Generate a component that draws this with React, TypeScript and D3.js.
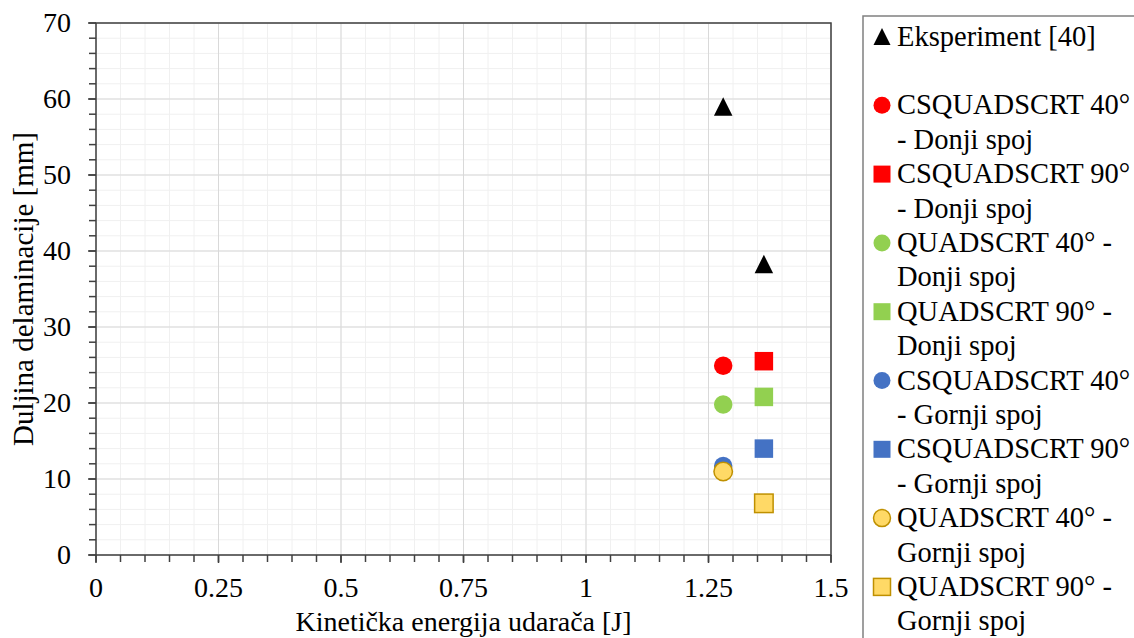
import React from "react";
import * as d3 from "d3";

// ---- data ----
const seriesLabels: string[][] = [
  ["Eksperiment [40]"],
  ["CSQUADSCRT 40°", "- Donji spoj"],
  ["CSQUADSCRT 90°", "- Donji spoj"],
  ["QUADSCRT 40° -", "Donji spoj"],
  ["QUADSCRT 90° -", "Donji spoj"],
  ["CSQUADSCRT 40°", "- Gornji spoj"],
  ["CSQUADSCRT 90°", "- Gornji spoj"],
  ["QUADSCRT 40° -", "Gornji spoj"],
  ["QUADSCRT 90° -", "Gornji spoj"],
];
const seriesEnergy: number[][] = [
  [1.28, 1.363],
  [1.28],
  [1.363],
  [1.28],
  [1.363],
  [1.28],
  [1.363],
  [1.28],
  [1.363],
];
const seriesDelamination: number[][] = [
  [59.0, 38.3],
  [24.9],
  [25.5],
  [19.8],
  [20.8],
  [11.7],
  [14.0],
  [11.0],
  [6.8],
];
const xTickValues = [0, 0.25, 0.5, 0.75, 1, 1.25, 1.5];
const xTickLabels = ["0", "0.25", "0.5", "0.75", "1", "1.25", "1.5"];
const yTickValues = [0, 10, 20, 30, 40, 50, 60, 70];
const xTitle = "Kinetička energija udarača [J]";
const yTitle = "Duljina delaminacije [mm]";

// ---- styles ----
const seriesShape = ["triangle", "circle", "square", "circle", "square", "circle", "square", "circle", "square"];
const seriesFill = ["#000000", "#FF0000", "#FF0000", "#92D050", "#92D050", "#4472C4", "#4472C4", "#FFD966", "#FFD966"];
const seriesStroke = ["none", "none", "none", "none", "none", "none", "none", "#BF9000", "#BF9000"];

const W = 1134;
const H = 638;
const plot = { left: 96, right: 831, top: 23, bottom: 555 };
const FONT = "'Liberation Serif', 'Times New Roman', serif";
const FS = 28;
const AXIS = "#404040";

function Marker({ shape, cx, cy, size, fill, stroke }: any) {
  const h = size / 2;
  const sw = stroke === "none" ? 0 : 1.5;
  if (shape === "circle")
    return <circle cx={cx} cy={cy} r={h} fill={fill} stroke={stroke} strokeWidth={sw} />;
  if (shape === "square")
    return <rect x={cx - h} y={cy - h} width={size} height={size} fill={fill} stroke={stroke} strokeWidth={sw} />;
  return (
    <polygon
      points={`${cx},${cy - h} ${cx + h},${cy + h} ${cx - h},${cy + h}`}
      fill={fill}
      stroke={stroke}
      strokeWidth={sw}
    />
  );
}

export default function App() {
  const x = d3.scaleLinear().domain([0, 1.5]).range([plot.left, plot.right]);
  const y = d3.scaleLinear().domain([0, 70]).range([plot.bottom, plot.top]);

  const xMinor = d3.range(0, 1.5001, 0.05);
  const yMinor = d3.range(0, 70.001, 2);

  // legend lines
  const lineH = 34.4;
  const legendTop = 36.5;
  const legendItems: { line: number; idx: number }[] = [];
  let line = 0;
  seriesLabels.forEach((lbls, i) => {
    legendItems.push({ line, idx: i });
    line += lbls.length;
    if (i === 0) line += 1;
  });

  return (
    <svg
      width={W}
      height={H}
      style={{ position: "absolute", left: 0, top: 0, background: "#fff" }}
      fontFamily={FONT}
    >
      <rect x={0} y={0} width={W} height={H} fill="#fff" />
      {/* minor grid */}
      {xMinor.map((v, i) => (
        <line key={"xm" + i} x1={x(v)} x2={x(v)} y1={plot.top} y2={plot.bottom} stroke="#f0f0f0" strokeWidth={1} />
      ))}
      {yMinor.map((v, i) => (
        <line key={"ym" + i} x1={plot.left} x2={plot.right} y1={y(v)} y2={y(v)} stroke="#f0f0f0" strokeWidth={1} />
      ))}
      {/* major grid */}
      {xTickValues.map((v, i) => (
        <line key={"xg" + i} x1={x(v)} x2={x(v)} y1={plot.top} y2={plot.bottom} stroke="#d9d9d9" strokeWidth={1} />
      ))}
      {yTickValues.map((v, i) => (
        <line key={"yg" + i} x1={plot.left} x2={plot.right} y1={y(v)} y2={y(v)} stroke="#d9d9d9" strokeWidth={1} />
      ))}
      {/* frame */}
      <rect
        x={plot.left}
        y={plot.top}
        width={plot.right - plot.left}
        height={plot.bottom - plot.top}
        fill="none"
        stroke={AXIS}
        strokeWidth={1.5}
      />
      {/* ticks */}
      {xMinor.map((v, i) => (
        <line key={"xt" + i} x1={x(v)} x2={x(v)} y1={plot.bottom} y2={plot.bottom + 7} stroke={AXIS} strokeWidth={1.5} />
      ))}
      {yMinor.map((v, i) => (
        <line key={"yt" + i} x1={plot.left - 7} x2={plot.left} y1={y(v)} y2={y(v)} stroke={AXIS} strokeWidth={1.5} />
      ))}
      {xTickValues.map((v, i) => (
        <line key={"xT" + i} x1={x(v)} x2={x(v)} y1={plot.bottom} y2={plot.bottom + 8} stroke={AXIS} strokeWidth={1.5} />
      ))}
      {yTickValues.map((v, i) => (
        <line key={"yT" + i} x1={plot.left - 8} x2={plot.left} y1={y(v)} y2={y(v)} stroke={AXIS} strokeWidth={1.5} />
      ))}
      {/* tick labels */}
      {xTickValues.map((v, i) => (
        <text key={"xl" + i} x={x(v)} y={597} textAnchor="middle" fontSize={FS} fill="#000">
          {xTickLabels[i]}
        </text>
      ))}
      {yTickValues.map((v, i) => (
        <text key={"yl" + i} x={71} y={y(v) + 8.5} textAnchor="end" fontSize={FS} fill="#000">
          {String(v)}
        </text>
      ))}
      {/* axis titles */}
      <text x={(plot.left + plot.right) / 2} y={631} textAnchor="middle" fontSize={FS} fill="#000">
        {xTitle}
      </text>
      <text
        transform={`translate(33,${(plot.top + plot.bottom) / 2}) rotate(-90)`}
        textAnchor="middle"
        fontSize={29}
        fill="#000"
      >
        {yTitle}
      </text>
      {/* data */}
      {seriesEnergy.map((xs, si) =>
        xs.map((xv, pi) => (
          <Marker
            key={`p${si}-${pi}`}
            shape={seriesShape[si]}
            cx={x(xv)}
            cy={y(seriesDelamination[si][pi])}
            size={18.5}
            fill={seriesFill[si]}
            stroke={seriesStroke[si]}
          />
        ))
      )}
      {/* legend */}
      <rect x={863} y={16} width={400} height={700} fill="#fff" stroke="#808080" strokeWidth={1.5} />
      {legendItems.map(({ line: ln, idx }) => {
        const cy = legendTop + ln * lineH;
        return (
          <g key={"lg" + idx}>
            <Marker
              shape={seriesShape[idx]}
              cx={882}
              cy={cy}
              size={17}
              fill={seriesFill[idx]}
              stroke={seriesStroke[idx]}
            />
            {seriesLabels[idx].map((t, k) => (
              <text key={k} x={897} y={cy + k * lineH + 9} fontSize={28.5} fill="#000">
                {t}
              </text>
            ))}
          </g>
        );
      })}
    </svg>
  );
}
